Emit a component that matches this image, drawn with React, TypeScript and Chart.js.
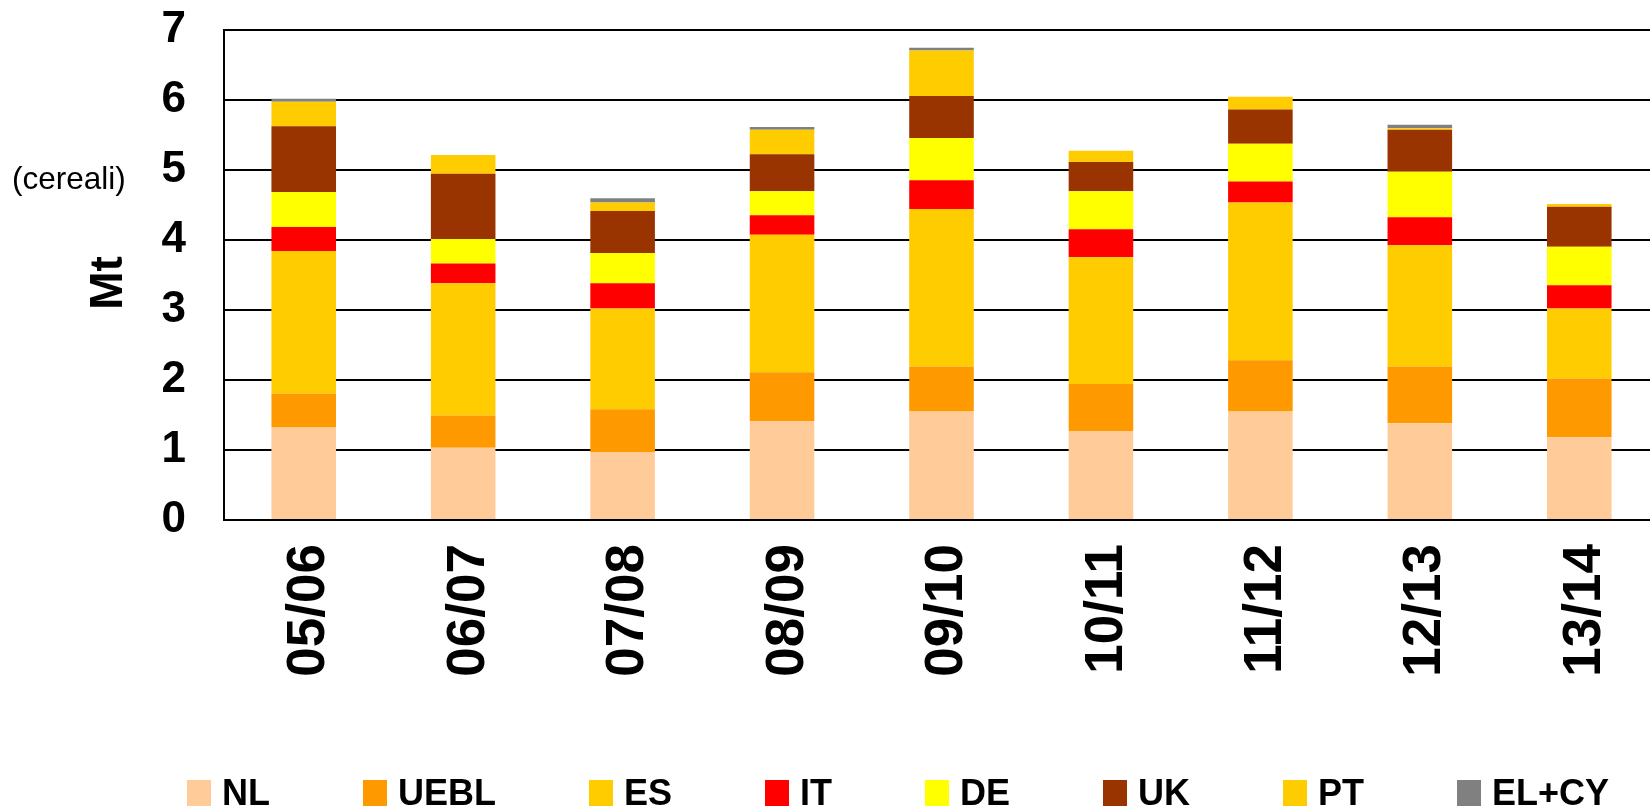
import React, { useEffect, useRef } from "react";
import { Chart, registerables } from "chart.js";

Chart.register(...registerables);

const categories = ["05/06", "06/07", "07/08", "08/09", "09/10", "10/11", "11/12", "12/13", "13/14"];
const seriesNames = ["NL", "UEBL", "ES", "IT", "DE", "UK", "PT", "EL+CY"];
const nl = [1.32, 1.03, 0.97, 1.41, 1.55, 1.27, 1.55, 1.38, 1.18];
const uebl = [0.48, 0.46, 0.61, 0.7, 0.64, 0.67, 0.73, 0.81, 0.84];
const es = [2.04, 1.89, 1.44, 1.96, 2.25, 1.81, 2.25, 1.73, 1.0];
const it = [0.34, 0.28, 0.36, 0.28, 0.41, 0.4, 0.3, 0.4, 0.33];
const de = [0.5, 0.35, 0.43, 0.34, 0.6, 0.54, 0.54, 0.65, 0.55];
const uk = [0.94, 0.93, 0.6, 0.53, 0.6, 0.42, 0.49, 0.6, 0.57];
const pt = [0.35, 0.27, 0.12, 0.35, 0.65, 0.16, 0.18, 0.02, 0.04];
const elcy = [0.04, 0, 0.06, 0.04, 0.04, 0, 0, 0.05, 0];
const seriesColors = ["#FFCC99", "#FF9900", "#FFCC00", "#FF0000", "#FFFF00", "#993300", "#FFCC00", "#808080"];
const yMin = 0;
const yMax = 7;
const yStep = 1;
const yTitle = "Mt";
const sideNote = "(cereali)";

const FONT = "'Liberation Sans', Arial, sans-serif";

const textPlugin = {
  id: "sideTexts",
  afterDraw(chart: any) {
    const ctx = chart.ctx;
    ctx.save();
    ctx.fillStyle = "#000";
    ctx.font = `normal 31.5px ${FONT}`;
    ctx.textAlign = "left";
    ctx.textBaseline = "alphabetic";
    ctx.fillText(sideNote, 12, 189);
    ctx.translate(109, 283);
    ctx.rotate(-Math.PI / 2);
    ctx.font = `bold 46px ${FONT}`;
    ctx.textAlign = "center";
    ctx.textBaseline = "middle";
    ctx.fillText(yTitle, 0, 0);
    ctx.restore();
  },
};

const legendPlugin = {
  id: "customLegend",
  afterDraw(chart: any) {
    const ctx = chart.ctx;
    ctx.save();
    ctx.font = `bold 36px ${FONT}`;
    ctx.textAlign = "left";
    ctx.textBaseline = "alphabetic";
    let x = 187;
    chart.data.datasets.forEach((ds: any) => {
      ctx.fillStyle = ds.backgroundColor;
      ctx.fillRect(x, 780, 24, 26);
      ctx.fillStyle = "#000";
      ctx.fillText(ds.label, x + 35, 805);
      const w = ctx.measureText(ds.label).width;
      x += 35 + w + 93;
    });
    ctx.restore();
  },
};

const zeroPad = (scale: any) => {
  scale.paddingTop = 0;
  scale.paddingBottom = 0;
  scale.paddingLeft = 0;
  scale.paddingRight = 0;
};

export default function App() {
  const ref = useRef<HTMLCanvasElement | null>(null);

  useEffect(() => {
    if (!ref.current) return;
    const series = [nl, uebl, es, it, de, uk, pt, elcy];
    const chart = new Chart(ref.current, {
      type: "bar",
      data: {
        labels: categories,
        datasets: series.map((d, i) => ({
          label: seriesNames[i],
          data: d,
          backgroundColor: seriesColors[i],
          borderWidth: 0,
          barPercentage: 0.405,
          categoryPercentage: 1,
        })),
      },
      options: {
        responsive: false,
        animation: false,
        layout: { padding: { top: 29.5, right: 0, bottom: 0, left: 0 } },
        plugins: {
          legend: { display: false },
          tooltip: { enabled: false },
        },
        scales: {
          x: {
            stacked: true,
            grid: { display: false, drawTicks: false },
            border: { display: true, color: "#000", width: 2 },
            ticks: {
              autoSkip: false,
              maxRotation: 90,
              minRotation: 90,
              padding: 24,
              labelOffset: 6,
              color: "#000",
              font: { family: FONT, size: 53, weight: "bold" },
            },
            afterFit(scale: any) {
              scale.height = 288;
              zeroPad(scale);
            },
          },
          y: {
            stacked: true,
            min: yMin,
            max: yMax,
            ticks: {
              stepSize: yStep,
              padding: 38,
              color: "#000",
              font: { family: FONT, size: 44, weight: "bold" },
            },
            grid: { color: "#000", lineWidth: 2, drawTicks: false },
            border: { display: true, color: "#000", width: 2 },
            title: { display: false },
            afterFit(scale: any) {
              scale.width = 224;
              zeroPad(scale);
            },
          },
        },
      },
      plugins: [textPlugin, legendPlugin],
    });
    return () => chart.destroy();
  }, []);

  return (
    <div style={{ position: "absolute", left: 0, top: 0, width: 1650, height: 808, overflow: "hidden", background: "#fff" }}>
      <canvas ref={ref} width={1659} height={808} style={{ display: "block" }} />
    </div>
  );
}
